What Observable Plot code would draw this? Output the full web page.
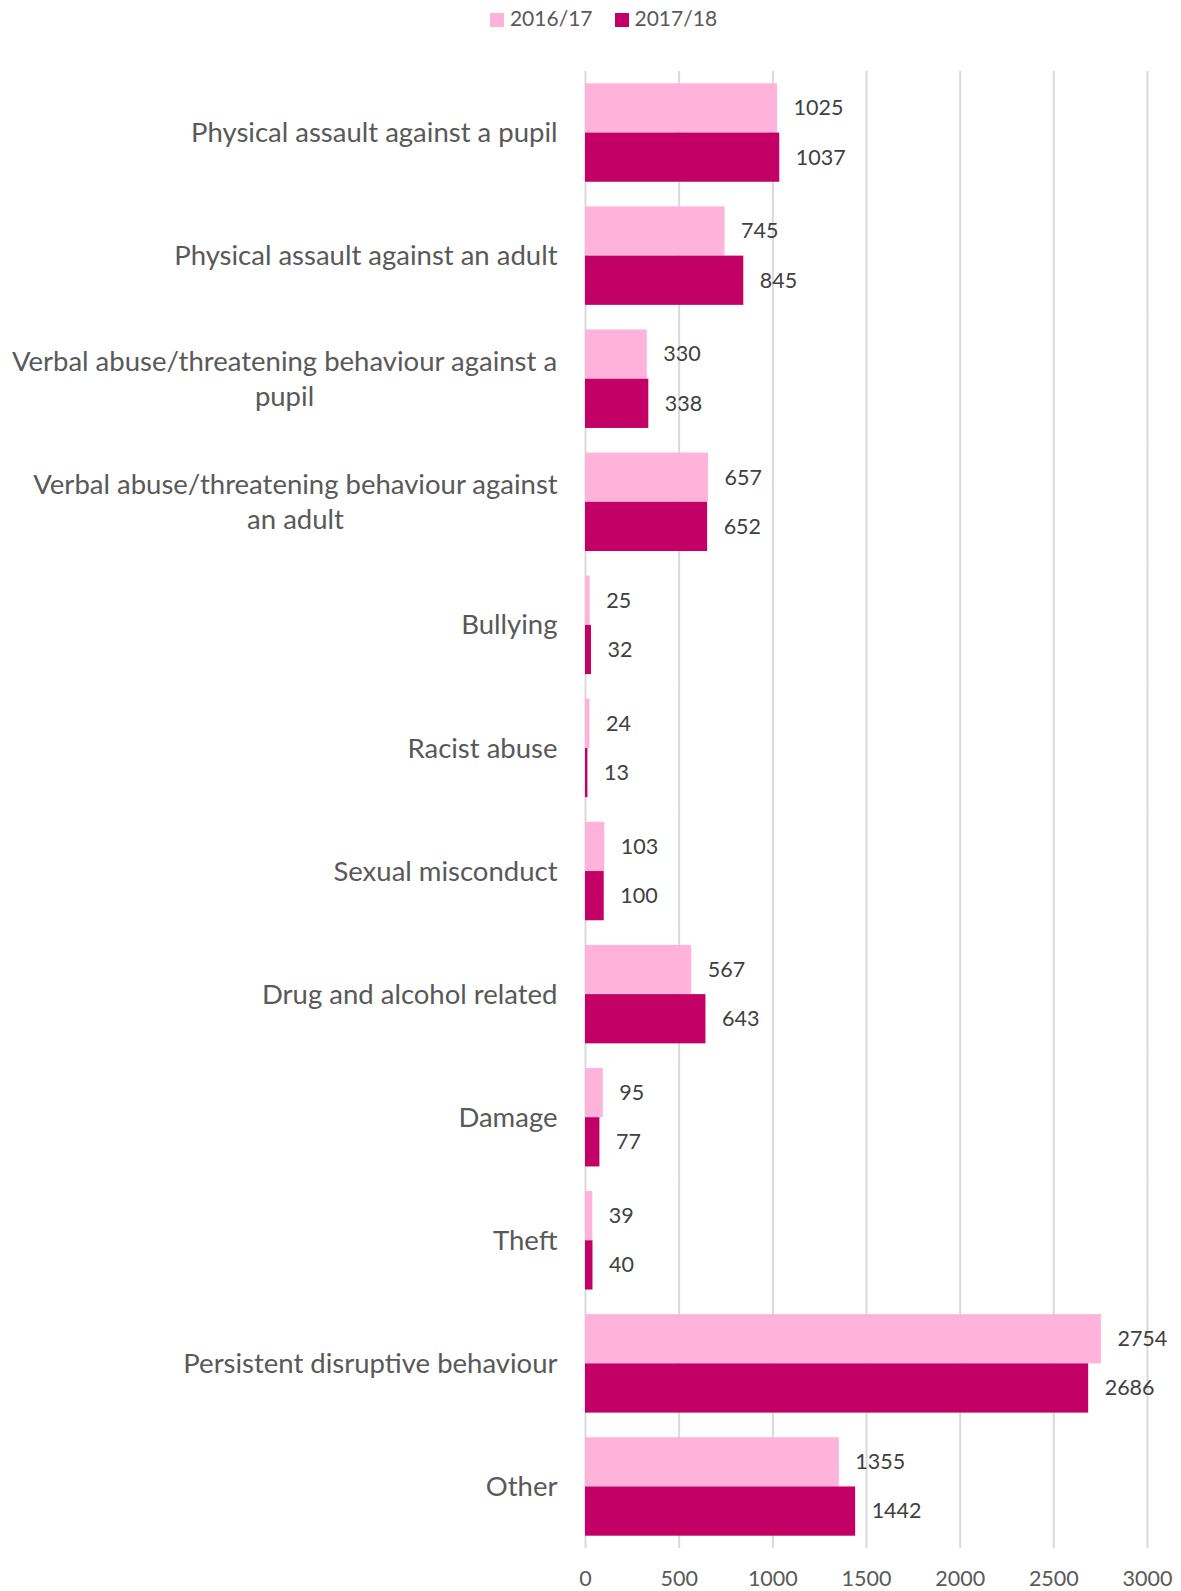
<!DOCTYPE html>
<html>
<head>
<meta charset="utf-8">
<script src="https://cdn.jsdelivr.net/npm/d3@7"></script>
<script src="https://cdn.jsdelivr.net/npm/@observablehq/plot@0.6"></script>
<style>
  html, body { margin: 0; padding: 0; background: #fff; }
  body { width: 1181px; font-family: Lato, "Noto Sans", sans-serif; }
  #legend { height: 40px; display: flex; justify-content: center; align-items: center; gap: 22px; padding-left: 26px; padding-bottom: 6px; box-sizing: border-box; font-size: 21px; color: #595959; }
  #legend span.sw { display: inline-block; width: 14px; height: 14px; margin-right: 6px; vertical-align: -1px; }
  #chart svg { display: block; }
</style>
</head>
<body>
<div id="legend"></div>
<div id="chart"></div>
<script>
const categories = [
  "Physical assault against a pupil",
  "Physical assault against an adult",
  "Verbal abuse/threatening behaviour against a pupil",
  "Verbal abuse/threatening behaviour against an adult",
  "Bullying",
  "Racist abuse",
  "Sexual misconduct",
  "Drug and alcohol related",
  "Damage",
  "Theft",
  "Persistent disruptive behaviour",
  "Other"
];
const wrappedLabels = {
  "Verbal abuse/threatening behaviour against a pupil": "Verbal abuse/threatening behaviour against a\npupil",
  "Verbal abuse/threatening behaviour against an adult": "Verbal abuse/threatening behaviour against\nan adult"
};
const seriesNames = ["2016/17", "2017/18"];
const values201617 = [1025, 745, 330, 657, 25, 24, 103, 567, 95, 39, 2754, 1355];
const values201718 = [1037, 845, 338, 652, 32, 13, 100, 643, 77, 40, 2686, 1442];
const colors = ["#FFB3DB", "#C20066"];
const xTicks = [0, 500, 1000, 1500, 2000, 2500, 3000];

const data = [];
categories.forEach((c, i) => {
  data.push({category: c, series: seriesNames[0], value: values201617[i]});
  data.push({category: c, series: seriesNames[1], value: values201718[i]});
});

// legend
const legend = document.getElementById("legend");
seriesNames.forEach((s, i) => {
  const item = document.createElement("span");
  item.innerHTML = `<span class="sw" style="background:${colors[i]}"></span>${s}`;
  legend.appendChild(item);
});

const H = 1551, MT = 31, MB = 43;
const padInner = 0.2, padOuter = 0.1;
const step = (H - MT - MB) / (categories.length - padInner + 2 * padOuter);
const halfGap = step * padInner / 2;

const singleCats = categories.filter(c => !(c in wrappedLabels));
const labelStyle = {frameAnchor: "left", fontSize: 27.5, fill: "#595959", lineHeight: 1.26, dy: -2};

const chart = Plot.plot({
  width: 1181,
  height: H,
  marginTop: MT,
  marginBottom: MB,
  marginLeft: 585,
  marginRight: 34,
  style: {fontFamily: "Lato, 'Noto Sans', sans-serif", background: "#fff"},
  x: {domain: [0, 3000], ticks: xTicks, axis: null},
  fy: {domain: categories, paddingInner: padInner, paddingOuter: padOuter, round: false, axis: null},
  y: {domain: seriesNames, padding: 0, round: false, axis: null},
  color: {domain: seriesNames, range: colors},
  marks: [
    Plot.gridX(xTicks, {stroke: "#D9D9D9", strokeOpacity: 1, strokeWidth: 2, insetTop: -halfGap, insetBottom: -halfGap}),
    Plot.barX(data, {fy: "category", y: "series", x: "value", fill: "series"}),
    Plot.text(data, {fy: "category", y: "series", x: "value", text: d => String(d.value), textAnchor: "start", dx: 16, fontSize: 21.5, fill: "#404040"}),
    Plot.axisX(xTicks, {anchor: "bottom", tickSize: 0, tickPadding: 35, fontSize: 21.5, fill: "#595959", label: null, tickFormat: d => String(d)}),
    Plot.text(singleCats, {...labelStyle, fy: d => d, text: d => d, textAnchor: "end", dx: -28}),
    Plot.text([categories[2]], {...labelStyle, fy: d => d, text: d => wrappedLabels[d], textAnchor: "middle", dx: -301}),
    Plot.text([categories[3]], {...labelStyle, fy: d => d, text: d => wrappedLabels[d], textAnchor: "middle", dx: -290})
  ]
});
document.getElementById("chart").appendChild(chart);
</script>
</body>
</html>
